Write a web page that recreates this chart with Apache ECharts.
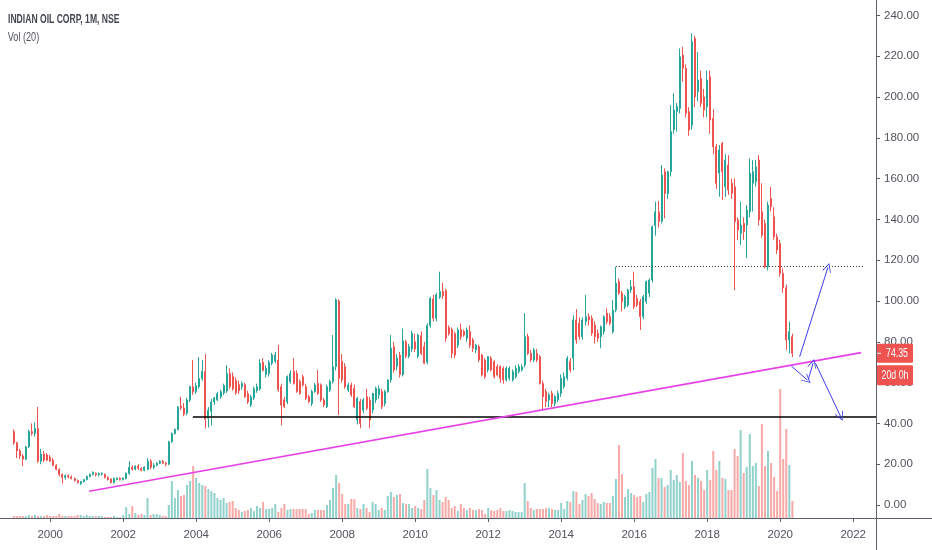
<!DOCTYPE html>
<html>
<head>
<meta charset="utf-8">
<title>INDIAN OIL CORP, 1M, NSE</title>
<script src="https://cdn.jsdelivr.net/npm/echarts@6/dist/echarts.min.js"></script>
<style>
  html, body { margin: 0; padding: 0; background: #fff; }
  #chart { width: 932px; height: 550px; }
</style>
</head>
<body>
<div id="chart"></div>
<script>
// first candle is 1999-01, axis runs 1998-09 .. 2022-08
var axisStart = [1998, 9];
var axisMonths = 288;
var firstCandle = '1999-01';

// monthly candles, [open, high, low, close]
var candles = [
  // 1999
  [36,37,29.5,30.5],[30.5,31,23,26.5],[26.5,27.5,22.5,24],[24,25,19,22.5],[22.5,29,22,28.5],[28.5,37,28,36],
  [36,40,34,35],[35,40.5,33.5,37.5],[37.5,48,20.5,21.5],[21.5,27.5,20,25],[25,26.5,21,22],[24.5,25.5,21.5,22],
  // 2000
  [23.5,24.5,21,21.5],[22,23,19,19.5],[19.5,20,17,17.5],[17.5,18,14,15],[15,15.5,10.5,13.5],[13.5,15,12.5,14.5],
  [14.5,15,13,13.8],[13.8,14.5,12.5,13],[13,13.5,11.5,12],[12,12.5,10.5,11],[10.5,11.8,9.8,11.5],[11.5,12.8,11,12.5],
  // 2001
  [12.5,14.5,12,14],[14,15.5,13.5,15],[15,16.5,14.5,16],[15.5,16,14,14.8],[14.8,16,14,15.5],[15.2,16,14.5,15.6],
  [15,15.5,13,13.5],[13.5,14,12,12.5],[12.8,13,10.5,11],[11,13.5,10.5,13],[12.5,13.5,12,13.2],[13.2,13.6,12,12.4],
  // 2002
  [12.4,13.5,12,13.2],[13,16,12.5,15.5],[15.5,21.5,14.8,18.5],[18.5,19.5,16.8,17.5],[17.5,19.5,17,19],[19,20,17.2,18],
  [18,18.5,16.5,17],[17,19,16.5,18.5],[17.5,23,17,21.5],[21.5,22.5,17.5,18.5],[18.5,20.5,17.5,19.5],[19.5,21,19,20.5],
  // 2003
  [20.5,22,20,21.5],[21.5,22,20,20.5],[20.5,21,19,20],[20,31.5,19.5,31],[31,35.5,30.5,35],[35,37.5,34.5,37],
  [37,48.5,36.5,48],[48.5,53,46.5,47.5],[47.5,50,43.5,44.5],[45,52.5,44,51.5],[51.5,58.5,50.5,58],[58,71,54,55.5],
  // 2004
  [55.5,60,54.5,58.5],[58,72.5,57,62],[62,71,61,65.5],[65.5,74,37.5,42],[42.5,48,38,46.5],[46,52,39,50.5],
  [50.5,53,49,52.5],[51.5,55.5,51,54.5],[53,56.5,52,55.5],[55,59.5,54,58.5],[56,68.5,55,64.5],[64.5,67,57,58],
  // 2005
  [63,65,56,57],[61,62.5,54,55],[59,61,54.5,56],[58,60.5,56.5,59.5],[59,60,52.5,53],[54.5,56,49.5,50.5],
  [49,54,48,53],[52.5,58,51.5,57],[56,59.5,55,58],[57,71.5,56,69.5],[70,72,65.5,66],[64,68.5,62.5,67],
  // 2006
  [64.5,71,63,70],[69.5,74.5,68.5,73.5],[70.5,75,69.5,73.5],[71,78.5,55.5,56.5],[58,59.5,39,49],[51.5,53,47.5,48.2],
  [50.5,63.5,49.5,63],[60.5,66,59.5,64.5],[65.5,72,59,59.6],[64.5,66,55,55.6],[60.5,61.5,54,54.7],[62.9,64,58,58.8],
  // 2007
  [58,59.5,51.5,52.3],[53.1,54,49.8,50.7],[49.8,56.5,48.5,55.6],[55.6,59.8,55,58.8],[59.6,66.2,54,54.7],[58.8,59.6,50.5,51.5],
  [51.5,52.5,48,49],[48.2,59,47.5,58],[56.4,61.5,55.5,60.5],[60.5,83.3,59.5,67.8],[67.8,101.3,66,100.5],[100,100.8,44.1,62.1],
  // 2008
  [70.3,74,60,61.3],[67.8,69.5,57,58],[56.4,60,55.5,58.8],[58.8,60,53,53.9],[57.2,59,47.5,48.2],[41.7,53,39.5,52.3],
  [50.7,52,37.6,40],[46.6,52.5,45,51.5],[53.1,57,46.5,47.4],[51.5,53,37.6,41.7],[46.6,55,45,54.7],[51.5,58,50,57.2],
  // 2009
  [54,58.5,52,57],[55.6,57,47,48.2],[49.8,56.5,48.5,55.6],[55.6,61.5,55,61.3],[61.3,83.3,60,76.8],[77.6,80,65,66.2],
  [68,74,66,72],[73.5,75,62.5,64],[64,86.5,63,80.5],[80,81,72,73],[73,79,72,77.6],[76.5,85.5,75,84.2],
  // 2010
  [80,84,75,76.5],[73,84,72,83.3],[83,85,73.5,74.3],[77.6,80,69,69.5],[70,89,69,88],[88,102,87,101.3],
  [101,103,90,91.5],[91.5,104,90,103],[102,114.4,101,104.6],[104.6,109,101,102.5],[105,106,80,81.7],[87,88,83,84],
  // 2011
  [86,87,72,74.3],[84,85,72,73.5],[78.4,87,77,85.8],[86,89,81,82.5],[85,86,82.5,83.3],[81.7,87,80,85.8],
  [85,88,77,78.4],[80.9,82,75,76.8],[76,79,74.5,78.4],[77.6,78.5,70,71.1],[73.5,74,63,63.7],[71.1,72,62,62.9],
  // 2012
  [66.2,73,65,72.7],[71.9,73,65.5,66.2],[70.3,71,62,62.9],[67.8,69,63,63.7],[67.8,68.5,60,62.1],[67,68,59.5,61.3],
  [61.3,68,60.5,67],[62.1,68,61,67],[61.3,66.5,60.5,65.4],[62.9,68.5,62,67],[65.4,69,64.5,67.8],[66.2,69,65.5,67.8],
  // 2013
  [68.6,94,67.5,82.5],[82.5,84,73.5,74.3],[74.3,76,70,71.1],[71.1,77,70,76],[74.3,76.5,70,71.1],[72.7,73.5,59,59.6],
  [59.6,61,46.6,53.1],[55.6,57,48,50.7],[51.5,55,48,54],[54.7,56,48,49.8],[49.8,54,48.5,53.1],[51.5,56,50.5,54.7],
  // 2014
  [54.7,64,53,62.1],[58,65,57,62.9],[62.1,73,61,71.9],[70.3,72,65,66.2],[71.9,93,66,90.7],[90.7,96,79,80.9],
  [89.1,92,81,82.5],[82.5,92,81,90.7],[89.9,102.9,88,92.3],[92.3,94,88,90.7],[91.5,93,83,84.2],[88.2,90,79.2,82.5],
  // 2015
  [84.2,86,80,81.7],[82.5,88,76.8,87.4],[84.9,93,83.5,92.3],[94,96.4,88.5,89.9],[92.3,94,88,89.1],[84.9,100.5,84,95.6],
  [95.6,116.8,94.5,108.7],[109.5,111,103,103.8],[103.8,105,95,99.7],[97.2,103,96,102.1],[98,106,97,105.4],[105.4,110.3,104,107],
  // 2016
  [107,114.4,96,97.2],[101.3,103,97,98],[99.7,101,85.8,92.3],[92.3,103,91,102.1],[99.7,110,98.5,109.5],[103.8,111,102,110.3],
  [110.3,137,109,136.4],[137,148.7,132,143.7],[143.7,149,136,139],[139,166.6,138,161.7],[163.4,165,140.5,152.7],[152.7,164,150,163.4],
  // 2017
  [163.4,196,161,183],[184,201.8,182,193.6],[193,197,183,195.3],[194.4,223.8,192,219.7],[220.5,224.6,207.5,214],[214,216,190,192],
  [192.8,195,181,183.8],[186.2,231.2,184,227.1],[228.7,230,195,200.1],[202.6,222,198,208.3],[209.1,213,195,196.9],[200,204,190,193.6],
  // 2018
  [195.2,213,190,208.3],[209.9,213,182,188.7],[189.5,194,172,175.6],[175.6,177,155,157.7],[162.6,176.5,151.1,174],[177.3,178,149.5,163.4],
  [156,172,151,169.1],[166.6,171.5,152,154.4],[157.7,160,150,152.8],[156,160,105.4,138.9],[139.7,141,129.9,134.8],[133.1,148.7,127.4,137.2],
  // 2019
  [138,141,130,134],[137.2,147,121,144.6],[143.8,169.9,141,162.6],[157.7,169.1,143.8,163.4],[158.5,169.1,156,165.8],[169.1,171.5,137,139.7],
  [143.8,157.7,131,132.3],[138,140,116,116.8],[116.8,148.7,115,147],[150.3,156,144,146.2],[141.3,146,130,131.5],[131.5,133,123,125],
  // 2020
  [128.2,130,112,113.5],[113.5,116,104,106.5],[106.5,108,76,80.9],[80.9,89.9,74.3,85],[82.5,84,72.5,74.35]
];

// monthly volume, same order (arbitrary units)
var volumes = [
  2,2,2,2,2,3,2,3,2,2,2,3,
  2,2,2,4,2,2,2,2,2,3,3,2,
  3,2,2,2,2,2,1,1,1,2,1,1,
  3,11,4,12,5,3,4,3,20,3,4,4,
  3,2,2,13,37,20,28,22,23,33,37,52,
  40,35,33,32,29,27,25,20,18,20,15,16,
  17,10,8,6,7,8,10,7,12,10,16,9,
  9,10,14,6,10,14,8,9,9,9,9,9,
  9,4,5,8,8,8,8,13,18,30,43,35,
  24,14,14,19,19,10,9,14,10,6,16,14,
  8,10,8,22,26,21,23,24,15,14,14,10,
  12,10,9,18,49,30,23,28,18,16,21,18,
  10,12,7,14,10,8,10,8,8,9,8,4,
  10,8,7,8,10,7,7,8,7,6,6,6,
  35,17,10,8,9,9,9,10,10,9,8,8,
  15,9,17,16,27,26,14,18,24,22,25,19,
  15,14,16,15,15,22,39,73,44,21,29,25,
  23,21,22,16,24,26,50,59,40,40,31,33,
  48,38,43,36,65,37,33,57,43,40,37,28,
  48,38,67,48,57,40,39,28,28,69,62,88,
  45,51,84,52,55,32,94,52,67,55,41,27,
  129,59,89,53,17
];

var priceTicks = [0, 20, 40, 60, 80, 100, 120, 140, 160, 180, 200, 220, 240];
var lastPrice = 74.35;
var countdown = '20d 0h';
var titleText = 'INDIAN OIL CORP, 1M, NSE';
var volText = 'Vol (20)';

// drawings: x = month position on the axis (1998-09 = 0), y = price
var supportLine = [[62.9, 43.2], [287.5, 43.2]];
var trendLine = [[28.8, 6.7], [282.6, 74.7]];
var targetLine = [[202, 116.8], [283.8, 116.8]];
var arrows = [
  [[262.4, 72.7], [271.7, 116.5]],
  [[259.7, 68.1], [264.9, 61.3]],
  [[265.2, 61.3], [266.8, 69.5]],
  [[267.6, 69.5], [275.9, 43.3]]
];

var upColor = '#26a69a';
var downColor = '#ef5350';
var axisColor = '#5d606b';
var textColor = '#50535e';
var font = "'Liberation Sans', Arial, sans-serif";

var months = [];
for (var m = 0; m < axisMonths; m++) {
  var y = axisStart[0] + Math.floor((axisStart[1] - 1 + m) / 12);
  var mo = (axisStart[1] - 1 + m) % 12 + 1;
  months.push(y + '-' + (mo < 10 ? '0' + mo : mo));
}
var offset = months.indexOf(firstCandle);

var candleData = candles.map(function (c, k) {
  return [months[offset + k], c[0], c[3], c[2], c[1]];
});
var volumeData = volumes.map(function (v, k) {
  var c = candles[k];
  return {
    value: [months[offset + k], v],
    itemStyle: { color: c[3] >= c[0] ? 'rgba(38,166,154,0.5)' : 'rgba(239,83,80,0.5)' }
  };
});

function yearTick(index, value) {
  return value.slice(5) === '01' && (+value.slice(0, 4)) % 2 === 0;
}

var arrowHead = 'path://M0,10 L5,0 L10,10 L9,10 L5,2 L1,10 Z';

var chart = echarts.init(document.getElementById('chart'), null, { renderer: 'canvas' });

var option = {
  animation: false,
  backgroundColor: '#ffffff',
  grid: { left: 0, right: 56, top: 0, bottom: 32 },
  xAxis: [
    {
      type: 'category',
      data: months,
      boundaryGap: true,
      axisLine: { onZero: false, lineStyle: { color: axisColor, width: 1 } },
      axisTick: { show: true, interval: yearTick, alignWithLabel: true, length: 4, lineStyle: { color: axisColor } },
      axisLabel: {
        interval: yearTick,
        formatter: function (v) { return v.slice(0, 4); },
        fontFamily: font, fontSize: 11.5, color: textColor, margin: 11
      },
      splitLine: { show: false }
    },
    {
      type: 'value',
      min: -0.5,
      max: axisMonths - 0.5,
      show: false
    }
  ],
  yAxis: [
    {
      type: 'value',
      position: 'right',
      min: -6.37,
      max: 247.55,
      splitLine: { show: false },
      axisLine: { show: true, onZero: false, lineStyle: { color: axisColor, width: 1 } },
      axisTick: { show: true, length: 4, customValues: priceTicks, lineStyle: { color: axisColor } },
      axisLabel: {
        customValues: priceTicks,
        formatter: function (v) { return v.toFixed(2); },
        fontFamily: font, fontSize: 11.5, color: textColor, margin: 8
      }
    },
    {
      type: 'value',
      min: 0,
      max: 518,
      show: false
    }
  ],
  series: [
    {
      name: 'Vol',
      type: 'bar',
      xAxisIndex: 0,
      yAxisIndex: 1,
      barWidth: 2,
      data: volumeData,
      encode: { x: 0, y: 1 },
      z: 1
    },
    {
      name: 'IOC',
      type: 'candlestick',
      xAxisIndex: 0,
      yAxisIndex: 0,
      barWidth: 1.5,
      data: candleData,
      encode: { x: 0, y: [1, 2, 3, 4] },
      itemStyle: {
        color: upColor,
        color0: downColor,
        borderColor: upColor,
        borderColor0: downColor,
        borderWidth: 1
      },
      z: 3
    },
    {
      type: 'lines',
      coordinateSystem: 'cartesian2d',
      xAxisIndex: 1,
      yAxisIndex: 0,
      symbol: 'none',
      z: 4,
      lineStyle: { color: '#000000', width: 1.5, opacity: 1 },
      data: [{ coords: supportLine }]
    },
    {
      type: 'lines',
      coordinateSystem: 'cartesian2d',
      xAxisIndex: 1,
      yAxisIndex: 0,
      symbol: 'none',
      z: 4,
      lineStyle: { color: '#e840e8', width: 1.6, opacity: 1 },
      data: [{ coords: trendLine }]
    },
    {
      type: 'lines',
      coordinateSystem: 'cartesian2d',
      xAxisIndex: 1,
      yAxisIndex: 0,
      symbol: 'none',
      z: 4,
      lineStyle: { color: '#333333', width: 1, type: [1, 2], opacity: 1 },
      data: [{ coords: targetLine }]
    },
    {
      type: 'lines',
      coordinateSystem: 'cartesian2d',
      xAxisIndex: 1,
      yAxisIndex: 0,
      symbol: ['none', arrowHead],
      symbolSize: [9, 9],
      z: 5,
      lineStyle: { color: '#3b3bee', width: 1, opacity: 1 },
      itemStyle: { color: '#3b3bee' },
      data: arrows.map(function (a) { return { coords: a }; })
    }
  ]
};

chart.setOption(option);

// legend texts, last price and bar countdown tags on the price scale
var yLast = chart.convertToPixel({ yAxisIndex: 0 }, lastPrice);
var axisX = 932 - 56;
chart.setOption({
  graphic: [
    {
      type: 'text', z: 10, x: 6, y: 19, scaleX: 0.66, originX: 6,
      style: { text: titleText, fill: '#434651', font: 'bold 13px ' + font, verticalAlign: 'middle' }
    },
    {
      type: 'text', z: 10, x: 6, y: 37, scaleX: 0.7, originX: 6,
      style: { text: volText, fill: textColor, font: '13px ' + font, verticalAlign: 'middle' }
    },
    { type: 'line', z: 10, shape: { x1: axisX, y1: 518.5, x2: 932, y2: 518.5 }, style: { stroke: axisColor, lineWidth: 1 } },
    { type: 'line', z: 10, shape: { x1: axisX + 0.5, y1: 518, x2: axisX + 0.5, y2: 550 }, style: { stroke: axisColor, lineWidth: 1 } },
    { type: 'rect', z: 20, shape: { x: axisX + 1, y: yLast - 9.5, width: 36, height: 19, r: 1 }, style: { fill: downColor } },
    { type: 'line', z: 21, shape: { x1: axisX + 1, y1: yLast, x2: axisX + 5, y2: yLast }, style: { stroke: '#ffffff', lineWidth: 1 } },
    {
      type: 'text', z: 21, x: axisX + 21, y: yLast, scaleX: 0.7,
      style: { text: lastPrice.toFixed(2), fill: '#ffffff', font: '12.5px ' + font, align: 'center', verticalAlign: 'middle' }
    },
    { type: 'rect', z: 20, shape: { x: axisX + 1, y: yLast + 12, width: 36, height: 20, r: 1 }, style: { fill: downColor } },
    {
      type: 'text', z: 21, x: axisX + 19, y: yLast + 22, scaleX: 0.7,
      style: { text: countdown, fill: '#ffffff', font: '12.5px ' + font, align: 'center', verticalAlign: 'middle' }
    }
  ]
});
</script>
</body>
</html>
